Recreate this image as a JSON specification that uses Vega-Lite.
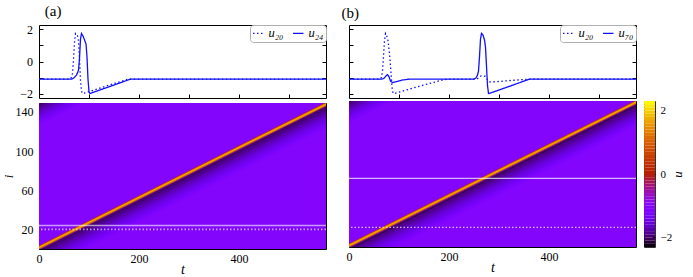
{
  "$schema": "https://vega.github.io/schema/vega-lite/v6.json",
  "padding": {"left": 1, "top": 3, "right": 0, "bottom": 0},
  "background": "white",
  "datasets": {
    "lineA": [
      {"s":"u₂₀","t":0,"u":-1.1},{"s":"u₂₀","t":60,"u":-1.1},{"s":"u₂₀","t":64,"u":-1.05},{"s":"u₂₀","t":67,"u":-0.75},{"s":"u₂₀","t":69,"u":0.1},{"s":"u₂₀","t":71,"u":1.2},{"s":"u₂₀","t":73,"u":1.75},{"s":"u₂₀","t":75,"u":1.7},{"s":"u₂₀","t":77,"u":1.6},{"s":"u₂₀","t":79,"u":1.3},{"s":"u₂₀","t":81,"u":0.2},{"s":"u₂₀","t":83,"u":-1.2},{"s":"u₂₀","t":85,"u":-1.85},{"s":"u₂₀","t":87,"u":-2.0},{"s":"u₂₀","t":90,"u":-1.98},{"s":"u₂₀","t":120,"u":-1.68},{"s":"u₂₀","t":150,"u":-1.38},{"s":"u₂₀","t":177,"u":-1.12},{"s":"u₂₀","t":185,"u":-1.1},{"s":"u₂₀","t":574,"u":-1.1},
      {"s":"u₂₄","t":0,"u":-1.1},{"s":"u₂₄","t":66,"u":-1.1},{"s":"u₂₄","t":70,"u":-1.02},{"s":"u₂₄","t":75,"u":-0.85},{"s":"u₂₄","t":79,"u":-0.55},{"s":"u₂₄","t":81,"u":0.2},{"s":"u₂₄","t":83,"u":1.4},{"s":"u₂₄","t":85,"u":1.75},{"s":"u₂₄","t":88,"u":1.6},{"s":"u₂₄","t":91,"u":1.35},{"s":"u₂₄","t":94,"u":1.1},{"s":"u₂₄","t":96,"u":0.3},{"s":"u₂₄","t":98,"u":-1.1},{"s":"u₂₄","t":100,"u":-1.9},{"s":"u₂₄","t":102,"u":-2.0},{"s":"u₂₄","t":140,"u":-1.58},{"s":"u₂₄","t":183,"u":-1.1},{"s":"u₂₄","t":574,"u":-1.1}
    ],
    "lineB": [
      {"s":"u₂₀","t":0,"u":-1.1},{"s":"u₂₀","t":62,"u":-1.1},{"s":"u₂₀","t":65,"u":-1.0},{"s":"u₂₀","t":67,"u":-0.6},{"s":"u₂₀","t":69,"u":0.3},{"s":"u₂₀","t":71,"u":1.3},{"s":"u₂₀","t":73,"u":1.75},{"s":"u₂₀","t":75,"u":1.65},{"s":"u₂₀","t":78,"u":1.3},{"s":"u₂₀","t":81,"u":0.5},{"s":"u₂₀","t":84,"u":-0.7},{"s":"u₂₀","t":86,"u":-1.6},{"s":"u₂₀","t":88,"u":-1.98},{"s":"u₂₀","t":91,"u":-2.0},{"s":"u₂₀","t":140,"u":-1.55},{"s":"u₂₀","t":190,"u":-1.13},{"s":"u₂₀","t":200,"u":-1.1},{"s":"u₂₀","t":256,"u":-1.1},{"s":"u₂₀","t":260,"u":-1.0},{"s":"u₂₀","t":264,"u":-0.9},{"s":"u₂₀","t":272,"u":-0.92},{"s":"u₂₀","t":276,"u":-1.1},{"s":"u₂₀","t":282,"u":-1.28},{"s":"u₂₀","t":300,"u":-1.25},{"s":"u₂₀","t":330,"u":-1.17},{"s":"u₂₀","t":361,"u":-1.1},{"s":"u₂₀","t":574,"u":-1.1},
      {"s":"u₇₀","t":0,"u":-1.1},{"s":"u₇₀","t":66,"u":-1.1},{"s":"u₇₀","t":70,"u":-1.05},{"s":"u₇₀","t":74,"u":-0.9},{"s":"u₇₀","t":77,"u":-0.82},{"s":"u₇₀","t":80,"u":-0.95},{"s":"u₇₀","t":83,"u":-1.22},{"s":"u₇₀","t":87,"u":-1.32},{"s":"u₇₀","t":92,"u":-1.28},{"s":"u₇₀","t":105,"u":-1.17},{"s":"u₇₀","t":120,"u":-1.1},{"s":"u₇₀","t":250,"u":-1.1},{"s":"u₇₀","t":254,"u":-1.02},{"s":"u₇₀","t":257,"u":-0.85},{"s":"u₇₀","t":259,"u":-0.6},{"s":"u₇₀","t":261,"u":0.3},{"s":"u₇₀","t":263,"u":1.4},{"s":"u₇₀","t":265,"u":1.75},{"s":"u₇₀","t":268,"u":1.65},{"s":"u₇₀","t":271,"u":1.35},{"s":"u₇₀","t":273,"u":0.9},{"s":"u₇₀","t":275,"u":-0.3},{"s":"u₇₀","t":277,"u":-1.5},{"s":"u₇₀","t":279,"u":-2.0},{"s":"u₇₀","t":282,"u":-1.98},{"s":"u₇₀","t":320,"u":-1.56},{"s":"u₇₀","t":361,"u":-1.1},{"s":"u₇₀","t":574,"u":-1.1}
    ],
    "rest": [{"t0":0,"t1":574,"i0":0,"i1":149,"u":-1.1}],
    "iso": [
      {"t0":-19.84,"t1":583.84,"u":-0.9},
      {"t0":-17.84,"t1":585.84,"u":-0.3},
      {"t0":-15.84,"t1":587.84,"u":0.7},
      {"t0":-13.84,"t1":589.84,"u":1.55},
      {"t0":-11.84,"t1":591.84,"u":1.75},
      {"t0":-9.84,"t1":593.84,"u":1.65},
      {"t0":-7.84,"t1":595.84,"u":1.45},
      {"t0":-5.84,"t1":597.84,"u":1.2},
      {"t0":-3.84,"t1":599.84,"u":0.3},
      {"t0":-1.84,"t1":601.84,"u":-1.3},
      {"t0":0.16,"t1":603.84,"u":-1.95},
      {"t0":2.16,"t1":605.84,"u":-2.0},
      {"t0":8.16,"t1":611.84,"u":-1.94},
      {"t0":14.16,"t1":617.84,"u":-1.87},
      {"t0":20.16,"t1":623.84,"u":-1.81},
      {"t0":26.16,"t1":629.84,"u":-1.74},
      {"t0":32.16,"t1":635.84,"u":-1.68},
      {"t0":38.16,"t1":641.84,"u":-1.61},
      {"t0":44.16,"t1":647.84,"u":-1.55},
      {"t0":50.16,"t1":653.84,"u":-1.49},
      {"t0":56.16,"t1":659.84,"u":-1.42},
      {"t0":62.16,"t1":665.84,"u":-1.36},
      {"t0":68.16,"t1":671.84,"u":-1.29},
      {"t0":74.16,"t1":677.84,"u":-1.23},
      {"t0":80.16,"t1":683.84,"u":-1.16},
      {"t0":-585.84,"t1":17.84,"u":-2.0},
      {"t0":-579.84,"t1":23.84,"u":-1.94},
      {"t0":-573.84,"t1":29.84,"u":-1.87},
      {"t0":-567.84,"t1":35.84,"u":-1.81},
      {"t0":-561.84,"t1":41.84,"u":-1.74},
      {"t0":-555.84,"t1":47.84,"u":-1.68},
      {"t0":-549.84,"t1":53.84,"u":-1.61},
      {"t0":-543.84,"t1":59.84,"u":-1.55},
      {"t0":-537.84,"t1":65.84,"u":-1.49},
      {"t0":-531.84,"t1":71.84,"u":-1.42},
      {"t0":-525.84,"t1":77.84,"u":-1.36},
      {"t0":-519.84,"t1":83.84,"u":-1.29},
      {"t0":-513.84,"t1":89.84,"u":-1.23},
      {"t0":-507.84,"t1":95.84,"u":-1.16}
    ],
    "cbar": [
      {"lo":-2.3,"hi":-2.2,"u":-2.25},{"lo":-2.2,"hi":-2.1,"u":-2.15},{"lo":-2.1,"hi":-2.0,"u":-2.05},{"lo":-2.0,"hi":-1.9,"u":-1.95},{"lo":-1.9,"hi":-1.8,"u":-1.85},{"lo":-1.8,"hi":-1.7,"u":-1.75},{"lo":-1.7,"hi":-1.6,"u":-1.65},{"lo":-1.6,"hi":-1.5,"u":-1.55},{"lo":-1.5,"hi":-1.4,"u":-1.45},{"lo":-1.4,"hi":-1.3,"u":-1.35},{"lo":-1.3,"hi":-1.2,"u":-1.25},{"lo":-1.2,"hi":-1.1,"u":-1.15},{"lo":-1.1,"hi":-1.0,"u":-1.05},{"lo":-1.0,"hi":-0.9,"u":-0.95},{"lo":-0.9,"hi":-0.8,"u":-0.85},{"lo":-0.8,"hi":-0.7,"u":-0.75},{"lo":-0.7,"hi":-0.6,"u":-0.65},{"lo":-0.6,"hi":-0.5,"u":-0.55},{"lo":-0.5,"hi":-0.4,"u":-0.45},{"lo":-0.4,"hi":-0.3,"u":-0.35},{"lo":-0.3,"hi":-0.2,"u":-0.25},{"lo":-0.2,"hi":-0.1,"u":-0.15},{"lo":-0.1,"hi":0.0,"u":-0.05},
      {"lo":0.0,"hi":0.1,"u":0.05},{"lo":0.1,"hi":0.2,"u":0.15},{"lo":0.2,"hi":0.3,"u":0.25},{"lo":0.3,"hi":0.4,"u":0.35},{"lo":0.4,"hi":0.5,"u":0.45},{"lo":0.5,"hi":0.6,"u":0.55},{"lo":0.6,"hi":0.7,"u":0.65},{"lo":0.7,"hi":0.8,"u":0.75},{"lo":0.8,"hi":0.9,"u":0.85},{"lo":0.9,"hi":1.0,"u":0.95},{"lo":1.0,"hi":1.1,"u":1.05},{"lo":1.1,"hi":1.2,"u":1.15},{"lo":1.2,"hi":1.3,"u":1.25},{"lo":1.3,"hi":1.4,"u":1.35},{"lo":1.4,"hi":1.5,"u":1.45},{"lo":1.5,"hi":1.6,"u":1.55},{"lo":1.6,"hi":1.7,"u":1.65},{"lo":1.7,"hi":1.8,"u":1.75},{"lo":1.8,"hi":1.9,"u":1.85},{"lo":1.9,"hi":2.0,"u":1.95},{"lo":2.0,"hi":2.1,"u":2.05},{"lo":2.1,"hi":2.2,"u":2.15},{"lo":2.2,"hi":2.3,"u":2.25}
    ],
    "marksA": [{"i":20,"d":"dot"},{"i":24,"d":"solid"}],
    "marksB": [{"i":20,"d":"dot"},{"i":70,"d":"solid"}]
  },
  "hconcat": [
    {
      "spacing": 1,
      "resolve": {"scale": {"color": "independent", "stroke": "independent", "strokeDash": "independent"}, "legend": {"color": "independent", "stroke": "independent", "strokeDash": "independent"}},
      "vconcat": [
        {
          "width": 287, "height": 73,
          "title": {"text": "(a)", "anchor": "start", "frame": "bounds", "dx": 25, "offset": 4},
          "data": {"name": "lineA"},
          "resolve": {"axis": {"y": "independent"}},
          "layer": [
            {
              "mark": {"type": "line", "color": "#1010ff", "strokeWidth": 1.3, "clip": true},
              "encoding": {
                "x": {"field": "t", "type": "quantitative", "scale": {"domain": [0, 574], "nice": false, "zero": false}, "axis": {"values": [100, 200, 300, 400, 500], "labels": false, "tickSize": -4, "title": null, "orient": "bottom"}},
                "y": {"field": "u", "type": "quantitative", "scale": {"domain": [-2.28, 2.28], "nice": false, "zero": false}, "axis": {"values": [-2, -1, 0, 1, 2], "labelExpr": "datum.value % 2 === 0 ? datum.label : ''", "tickSize": -4, "labelPadding": 10.5, "title": null, "orient": "left"}},
                "strokeDash": {"field": "s", "type": "nominal", "scale": {"domain": ["u₂₀", "u₂₄"], "range": [[1.5, 2.5], [1, 0]]}, "legend": {"orient": "top-right", "direction": "horizontal", "title": null, "offset": 0}}
              }
            },
            {
              "mark": {"type": "line", "opacity": 0},
              "encoding": {
                "x": {"field": "t", "type": "quantitative"},
                "y": {"field": "u", "type": "quantitative", "axis": {"values": [-2, -1, 0, 1, 2], "labels": false, "tickSize": -4, "title": null, "orient": "right"}},
                "detail": {"field": "s"}
              }
            }
          ]
        },
        {
          "width": 287, "height": 146,
          "resolve": {"axis": {"y": "independent"}},
          "layer": [
            {
              "data": {"name": "rest"},
              "mark": {"type": "rect"},
              "encoding": {
                "x": {"field": "t0", "type": "quantitative", "scale": {"domain": [0, 574], "nice": false, "zero": false}, "axis": {"values": [0, 100, 200, 300, 400, 500], "labelExpr": "datum.value % 200 === 0 ? datum.label : ''", "tickSize": -4, "labelPadding": 8, "title": "t", "titleFontStyle": "italic", "titlePadding": -2}},
                "x2": {"field": "t1"},
                "y": {"field": "i0", "type": "quantitative", "scale": {"domain": [0, 149], "nice": false, "zero": false}, "axis": {"values": [20, 40, 60, 80, 100, 120, 140], "labelExpr": "(datum.value - 20) % 40 === 0 ? datum.label : ''", "tickSize": -4, "labelPadding": 10, "title": "i", "titleFontStyle": "italic", "titleFontSize": 13, "titlePadding": 0, "orient": "left"}},
                "y2": {"field": "i1"},
                "color": {"field": "u", "type": "quantitative", "legend": null,
                  "scale": {"domain": [-2.3,-2.07,-1.84,-1.61,-1.38,-1.15,-0.92,-0.69,-0.46,-0.23,0,0.23,0.46,0.69,0.92,1.15,1.38,1.61,1.84,2.07,2.3],
                            "range": ["#000000","#39004f","#510096","#6301ce","#7202f3","#8004ff","#8c07f3","#970bce","#a11096","#ab174f","#b42000","#bd2a00","#c63700","#ce4600","#d55700","#dd6c00","#e48300","#eb9d00","#f2ba00","#f9db00","#ffff00"], "interpolate": "rgb"}}
              }
            },
            {
              "data": {"name": "iso"},
              "mark": {"type": "rule", "strokeWidth": 1.6, "clip": true},
              "encoding": {
                "x": {"field": "t0", "type": "quantitative"},
                "x2": {"field": "t1"},
                "y": {"datum": -2, "type": "quantitative", "axis": {"values": [20, 40, 60, 80, 100, 120, 140], "labels": false, "tickSize": -4, "title": null, "orient": "right"}},
                "y2": {"datum": 152},
                "stroke": {"field": "u", "type": "quantitative", "legend": null,
                  "scale": {"domain": [-2.3,-2.07,-1.84,-1.61,-1.38,-1.15,-0.92,-0.69,-0.46,-0.23,0,0.23,0.46,0.69,0.92,1.15,1.38,1.61,1.84,2.07,2.3],
                            "range": ["#000000","#39004f","#510096","#6301ce","#7202f3","#8004ff","#8c07f3","#970bce","#a11096","#ab174f","#b42000","#bd2a00","#c63700","#ce4600","#d55700","#dd6c00","#e48300","#eb9d00","#f2ba00","#f9db00","#ffff00"], "interpolate": "rgb"}}
              }
            },
            {
              "data": {"name": "marksA"},
              "mark": {"type": "rule", "color": "white", "opacity": 0.6, "strokeWidth": 1.6},
              "encoding": {
                "y": {"field": "i", "type": "quantitative", "axis": null},
                "strokeDash": {"field": "d", "type": "nominal", "scale": {"domain": ["dot", "solid"], "range": [[1.5, 2], [1, 0]]}, "legend": null}
              }
            }
          ]
        }
      ]
    },
    {
      "spacing": 1,
      "resolve": {"scale": {"color": "independent", "stroke": "independent", "strokeDash": "independent"}, "legend": {"color": "independent", "stroke": "independent", "strokeDash": "independent"}},
      "vconcat": [
        {
          "width": 287, "height": 73,
          "title": {"text": "(b)", "anchor": "start", "frame": "bounds", "dx": -7, "offset": 4},
          "data": {"name": "lineB"},
          "resolve": {"axis": {"y": "independent"}},
          "layer": [
            {
              "mark": {"type": "line", "color": "#1010ff", "strokeWidth": 1.3, "clip": true},
              "encoding": {
                "x": {"field": "t", "type": "quantitative", "scale": {"domain": [0, 574], "nice": false, "zero": false}, "axis": {"values": [100, 200, 300, 400, 500], "labels": false, "tickSize": -4, "title": null, "orient": "bottom"}},
                "y": {"field": "u", "type": "quantitative", "scale": {"domain": [-2.28, 2.28], "nice": false, "zero": false}, "axis": {"values": [-2, -1, 0, 1, 2], "labels": false, "tickSize": -4, "title": null, "orient": "left"}},
                "strokeDash": {"field": "s", "type": "nominal", "scale": {"domain": ["u₂₀", "u₇₀"], "range": [[1.5, 2.5], [1, 0]]}, "legend": {"orient": "top-right", "direction": "horizontal", "title": null, "offset": 0}}
              }
            },
            {
              "mark": {"type": "line", "opacity": 0},
              "encoding": {
                "x": {"field": "t", "type": "quantitative"},
                "y": {"field": "u", "type": "quantitative", "axis": {"values": [-2, -1, 0, 1, 2], "labels": false, "tickSize": -4, "title": null, "orient": "right"}},
                "detail": {"field": "s"}
              }
            }
          ]
        },
        {
          "spacing": 5,
          "resolve": {"scale": {"color": "independent", "stroke": "independent", "strokeDash": "independent", "x": "independent", "y": "independent"}, "legend": {"color": "independent", "stroke": "independent", "strokeDash": "independent"}},
          "hconcat": [
            {
              "width": 287, "height": 146,
              "resolve": {"axis": {"y": "independent"}},
              "layer": [
                {
                  "data": {"name": "rest"},
                  "mark": {"type": "rect"},
                  "encoding": {
                    "x": {"field": "t0", "type": "quantitative", "scale": {"domain": [0, 574], "nice": false, "zero": false}, "axis": {"values": [0, 100, 200, 300, 400, 500], "labelExpr": "datum.value % 200 === 0 ? datum.label : ''", "tickSize": -4, "labelPadding": 8, "title": "t", "titleFontStyle": "italic", "titlePadding": -2}},
                    "x2": {"field": "t1"},
                    "y": {"field": "i0", "type": "quantitative", "scale": {"domain": [0, 149], "nice": false, "zero": false}, "axis": {"values": [20, 40, 60, 80, 100, 120, 140], "labels": false, "tickSize": -4, "title": null, "orient": "left"}},
                    "y2": {"field": "i1"},
                    "color": {"field": "u", "type": "quantitative", "legend": null,
                      "scale": {"domain": [-2.3,-2.07,-1.84,-1.61,-1.38,-1.15,-0.92,-0.69,-0.46,-0.23,0,0.23,0.46,0.69,0.92,1.15,1.38,1.61,1.84,2.07,2.3],
                                "range": ["#000000","#39004f","#510096","#6301ce","#7202f3","#8004ff","#8c07f3","#970bce","#a11096","#ab174f","#b42000","#bd2a00","#c63700","#ce4600","#d55700","#dd6c00","#e48300","#eb9d00","#f2ba00","#f9db00","#ffff00"], "interpolate": "rgb"}}
                  }
                },
                {
                  "data": {"name": "iso"},
                  "mark": {"type": "rule", "strokeWidth": 1.6, "clip": true},
                  "encoding": {
                    "x": {"field": "t0", "type": "quantitative"},
                    "x2": {"field": "t1"},
                    "y": {"datum": -2, "type": "quantitative", "axis": {"values": [20, 40, 60, 80, 100, 120, 140], "labels": false, "tickSize": -4, "title": null, "orient": "right"}},
                    "y2": {"datum": 152},
                    "stroke": {"field": "u", "type": "quantitative", "legend": null,
                      "scale": {"domain": [-2.3,-2.07,-1.84,-1.61,-1.38,-1.15,-0.92,-0.69,-0.46,-0.23,0,0.23,0.46,0.69,0.92,1.15,1.38,1.61,1.84,2.07,2.3],
                                "range": ["#000000","#39004f","#510096","#6301ce","#7202f3","#8004ff","#8c07f3","#970bce","#a11096","#ab174f","#b42000","#bd2a00","#c63700","#ce4600","#d55700","#dd6c00","#e48300","#eb9d00","#f2ba00","#f9db00","#ffff00"], "interpolate": "rgb"}}
                  }
                },
                {
                  "data": {"name": "marksB"},
                  "mark": {"type": "rule", "color": "white", "opacity": 0.7, "strokeWidth": 1.4},
                  "encoding": {
                    "y": {"field": "i", "type": "quantitative", "axis": null},
                    "strokeDash": {"field": "d", "type": "nominal", "scale": {"domain": ["dot", "solid"], "range": [[1.5, 2], [1, 0]]}, "legend": null}
                  }
                }
              ]
            },
            {
              "width": 11, "height": 146,
              "data": {"name": "cbar"},
              "view": {"stroke": "#333"},
              "mark": {"type": "rect"},
              "encoding": {
                "x": {"datum": 0, "type": "quantitative", "scale": {"domain": [0, 1], "nice": false}, "axis": null},
                "x2": {"datum": 1},
                "y": {"field": "lo", "type": "quantitative", "scale": {"domain": [-2.3, 2.3], "nice": false, "zero": false}, "axis": {"orient": "right", "values": [-2, 0, 2], "tickSize": -3, "labelPadding": 8, "labelFontSize": 11, "title": "u", "titleFontStyle": "italic", "titleFontSize": 13, "titleAngle": 270, "titleBaseline": "top", "titlePadding": 0}},
                "y2": {"field": "hi"},
                "color": {"field": "u", "type": "quantitative", "legend": null,
                  "scale": {"domain": [-2.3,-2.07,-1.84,-1.61,-1.38,-1.15,-0.92,-0.69,-0.46,-0.23,0,0.23,0.46,0.69,0.92,1.15,1.38,1.61,1.84,2.07,2.3],
                            "range": ["#000000","#39004f","#510096","#6301ce","#7202f3","#8004ff","#8c07f3","#970bce","#a11096","#ab174f","#b42000","#bd2a00","#c63700","#ce4600","#d55700","#dd6c00","#e48300","#eb9d00","#f2ba00","#f9db00","#ffff00"], "interpolate": "rgb"}}
              }
            }
          ]
        }
      ]
    }
  ],
  "spacing": 13,
  "resolve": {"scale": {"color": "independent", "stroke": "independent", "strokeDash": "independent"}, "legend": {"color": "independent", "stroke": "independent", "strokeDash": "independent"}},
  "config": {
    "view": {"stroke": "#000", "strokeWidth": 1},
    "font": "Liberation Serif",
    "title": {"font": "Liberation Serif", "fontSize": 15, "fontWeight": "normal", "color": "#000"},
    "axis": {"grid": false, "domain": false, "labelFlush": false, "tickColor": "#000", "tickWidth": 1, "labelColor": "#000", "labelFont": "Liberation Serif", "labelFontSize": 12, "titleFont": "Liberation Serif", "titleFontSize": 14, "titleFontWeight": "normal", "titleColor": "#000"},
    "legend": {"symbolType": "stroke", "symbolStrokeColor": "#1010ff", "symbolStrokeWidth": 1.3, "symbolSize": 110, "labelFont": "Liberation Serif", "labelFontSize": 12.5, "labelFontStyle": "italic", "labelColor": "#000", "titleFont": "Liberation Serif", "titleColor": "#000", "titleFontWeight": "normal", "fillColor": "white", "strokeColor": "#b0b0b0", "cornerRadius": 3, "padding": 2, "columnPadding": 6, "labelOffset": 4}
  }
}
